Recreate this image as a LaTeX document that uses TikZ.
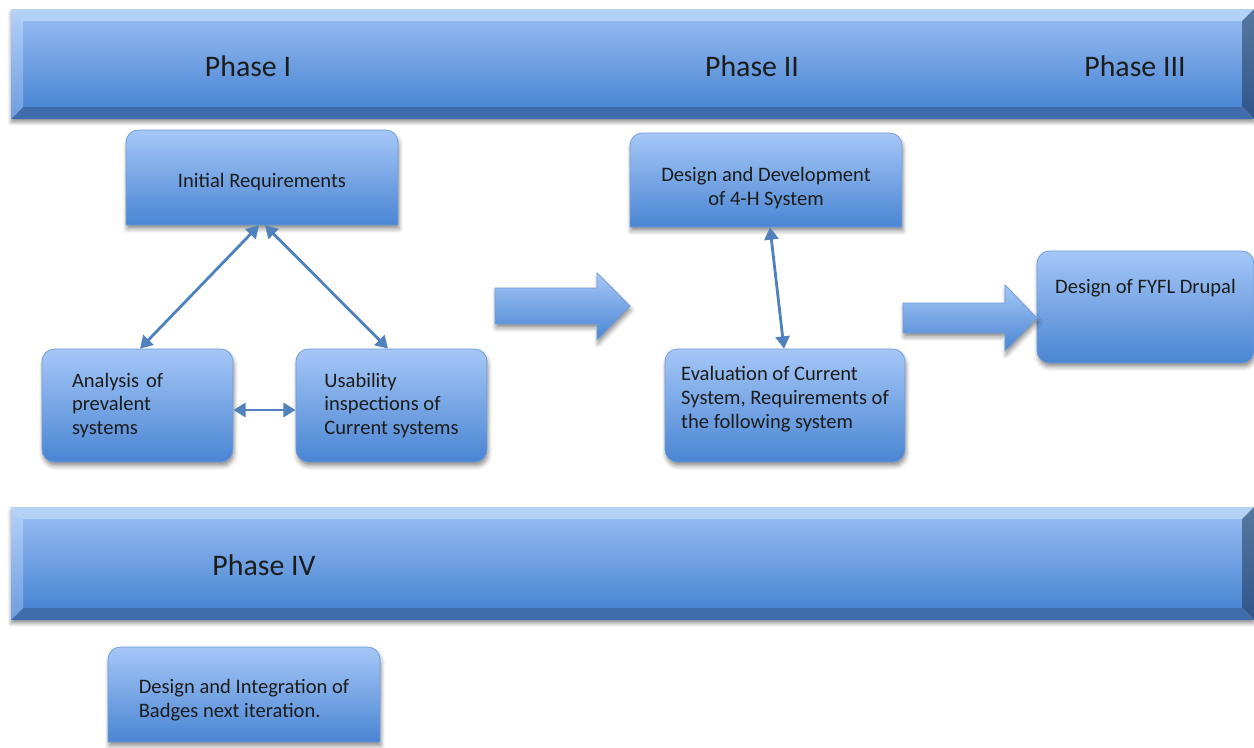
\documentclass[tikz,border=0pt]{standalone}
\usepackage{fontspec}
\setmainfont{Carlito}
\usetikzlibrary{arrows.meta,shadows.blur}

\definecolor{boxtop}{HTML}{A5C7F7}
\definecolor{boxbot}{HTML}{4A85D3}
\definecolor{boxedge}{HTML}{6F9BD5}
\definecolor{linkblue}{HTML}{4F81BD}
\definecolor{facetop}{HTML}{92B8F0}
\definecolor{facebot}{HTML}{4A86D3}
\definecolor{bevtop}{HTML}{B4D1F8}
\definecolor{bevleftbot}{HTML}{6E9DE0}
\definecolor{bevbot}{HTML}{3F6DAC}
\definecolor{bevrighttop}{HTML}{57789F}
\definecolor{bevrightbot}{HTML}{2F558A}
\definecolor{ink}{HTML}{1C1C1C}

\tikzset{
  soft shadow/.style={blur shadow={shadow xshift=0.6pt, shadow yshift=-2.2pt,
      shadow blur radius=2.5pt, shadow opacity=45}},
  shade box/.style={top color=boxtop, bottom color=boxbot, draw=boxedge,
      line width=0.4pt, soft shadow},
  textfont/.style={font=\fontsize{11.7}{13.6}\selectfont, text=ink},
  roundbox/.style={shade box, rounded corners=7pt, textfont, inner sep=0pt},
  plainbox/.style={textfont, inner sep=0pt},
  phase/.style={font=\fontsize{17}{20}\selectfont, text=ink},
  link/.style={draw=linkblue, line width=1.6pt,
      {Triangle[length=7pt,width=8pt]}-{Triangle[length=7pt,width=8pt]}},
}

% bevelled banner: left, top, right, bottom edge (pixel units)
\newcommand\phasebar[4]{%
  \fill[white, blur shadow={shadow xshift=0pt, shadow yshift=-2pt,
      shadow blur radius=2pt, shadow opacity=40}] (#1,#2) rectangle (#3,#4);
  \shade[top color=facetop, bottom color=facebot] (#1+12,#2+12) rectangle (#3-12,#4-12);
  \fill[bevtop] (#1,#2) -- (#3,#2) -- (#3-12,#2+12) -- (#1+12,#2+12) -- cycle;
  \shade[top color=bevtop, bottom color=bevleftbot]
      (#1,#2) -- (#1+12,#2+12) -- (#1+12,#4-12) -- (#1,#4) -- cycle;
  \fill[bevbot] (#1,#4) -- (#1+12,#4-12) -- (#3-12,#4-12) -- (#3,#4) -- cycle;
  \shade[top color=bevrighttop, bottom color=bevrightbot]
      (#3,#2) -- (#3-12,#2+12) -- (#3-12,#4-12) -- (#3,#4) -- cycle;
}

% box outline with rounded top corners and square bottom corners:
% left, top, right, bottom edge (pixel units)
\newcommand\toproundbox[4]{%
  \path[shade box] (#1,#4) [rounded corners=7pt] -- (#1,#2)
      -- (#3,#2) [sharp corners] -- (#3,#4) -- cycle;
}

\begin{document}
\begin{tikzpicture}[x=0.02cm, y=-0.02cm]
\useasboundingbox (0,0) rectangle (1254,747);

% phase banners
\phasebar{11}{9}{1254}{119}
\phasebar{11}{507}{1254}{620}

% outlines of the boxes with square bottom corners
\toproundbox{126}{130}{398}{225}
\toproundbox{630}{133}{902}{227}
\toproundbox{108}{647}{380}{742}

% phase titles
\node[phase] (p1) at (248,66) {Phase I};
\node[phase] (p2) at (752,66) {Phase II};
\node[phase] (p3) at (1135,66) {Phase III};
\node[phase] (p4) at (264,565) {Phase IV};

% Phase I
\node[plainbox, minimum width=5.44cm, minimum height=1.9cm,
      text height=14.5pt, text depth=2.6pt] (ir) at (262,177.5) {Initial Requirements};
\node[roundbox, minimum width=3.82cm, minimum height=2.26cm, text width=2.62cm,
      align=left] (an) at (137.5,405.5) {Analysis of\\prevalent\\systems};
\node[roundbox, minimum width=3.82cm, minimum height=2.26cm,
      align=left] (us) at (391.5,405.5) {Usability\\inspections of\\Current systems};

% Phase II
\node[plainbox, minimum width=5.44cm, minimum height=1.88cm,
      align=center] (dd) at (766,180) {\mbox{}\\[4pt]Design and Development\\of 4-H System};
\node[roundbox, minimum width=4.8cm, minimum height=2.26cm,
      align=left] (ev) at (785,405.5)
      {Evaluation of Current\\System, Requirements of\\the following system\\[-4.2pt]\mbox{}};

% Phase III
\node[roundbox, minimum width=4.34cm, minimum height=2.24cm,
      text height=8.6pt, text depth=24pt] (fy) at (1145.5,307) {Design of FYFL Drupal};

% Phase IV
\node[plainbox, minimum width=5.44cm, minimum height=1.9cm,
      align=left] (bd) at (244,694.5) {\mbox{}\\[1pt]Design and Integration of\\Badges next iteration.};

% block arrows between phases
\path[shade box] (495,288) -- (597,288) -- (597,273) -- (630,306)
  -- (597,340) -- (597,324) -- (495,324) -- cycle;
\path[shade box] (903,303) -- (1005,303) -- (1005,285) -- (1037,318)
  -- (1005,351) -- (1005,333) -- (903,333) -- cycle;

% links
\draw[link] ([xshift=-0.06cm]ir.south) -- ([xshift=0.05cm]an.north);
\draw[link] ([xshift=0.06cm]ir.south) -- ([xshift=-0.07cm]us.north);
\draw[link] ([yshift=-0.09cm]an.east) -- ([yshift=-0.09cm]us.west);
\draw[link] ([xshift=0.08cm]dd.south) -- ([xshift=-0.02cm]ev.north);
\end{tikzpicture}
\end{document}
